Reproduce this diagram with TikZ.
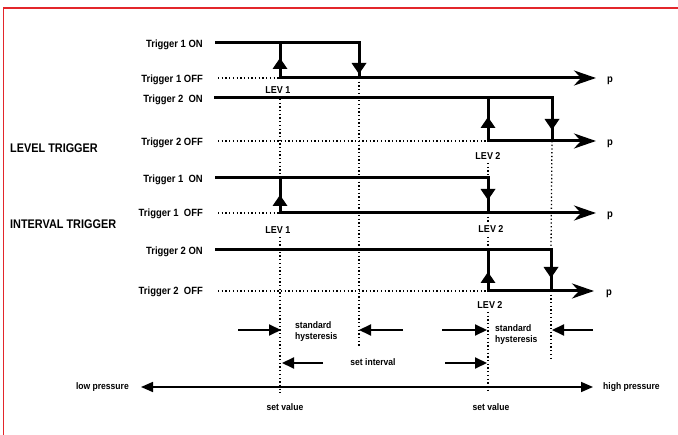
\documentclass[tikz,border=0pt]{standalone}
\usepackage{fontspec}
\setmainfont{Liberation Sans}[FakeStretch=0.9]
\newfontfamily\headfont{Liberation Sans}[FakeStretch=0.87]
\usetikzlibrary{arrows.meta}
\definecolor{framered}{HTML}{E3262B}
\begin{document}
\begin{tikzpicture}[x=1pt,y=-1pt,
  sig/.style={line width=3pt},
  dots/.style={line width=1.3pt, dash pattern=on 1.3pt off 2.4pt},
  parrow/.style={sig,-{Stealth[length=22pt,width=15pt,inset=7pt]}},
  harrow/.style={line width=2pt,-{Triangle[length=12pt,width=11pt]}},
  axisarrow/.style={line width=1.6pt,{Triangle[length=12pt,width=10pt]}-{Triangle[length=12pt,width=10pt]}},
  rowlab/.style={anchor=base east, font=\fontsize{10.5}{12}\selectfont\bfseries, inner sep=0pt},
  levlab/.style={font=\fontsize{10}{11}\selectfont\bfseries, inner sep=0pt},
  smalltxt/.style={font=\fontsize{9.5}{11.5}\selectfont\bfseries, inner sep=0pt},
  plab/.style={font=\fontsize{10.5}{12}\selectfont\bfseries, inner sep=0pt},
  headtxt/.style={anchor=west, font=\headfont\fontsize{12.5}{14}\selectfont\bfseries, inner sep=0pt},
  uparr/.pic={\fill (0,0) -- (7.5,11) -- (-7.5,11) -- cycle;},
  dnarr/.pic={\fill (0,0) -- (7.5,-11) -- (-7.5,-11) -- cycle;},
]
\useasboundingbox (0,0) rectangle (678,435);
% frame
\draw[framered, line width=1.2pt] (3.5,435) -- (3.5,8) -- (678,8);

% ---------- section headings ----------
\node[headtxt] (lvl) at (10,148) {LEVEL TRIGGER};
\node[headtxt] (ivl) at (10,224.5) {INTERVAL TRIGGER};

% ---------- row labels ----------
\node[rowlab] (r1) at (203,48) {Trigger 1 ON};
\node[rowlab] (r2) at (203,83) {Trigger 1 OFF};
\node[rowlab] (r3) at (203,103) {Trigger 2\enspace ON};
\node[rowlab] (r4) at (203,146) {Trigger 2 OFF};
\node[rowlab] (r5) at (203,183) {Trigger 1\enspace ON};
\node[rowlab] (r6) at (203,217) {Trigger 1\enspace OFF};
\node[rowlab] (r7) at (203,255) {Trigger 2 ON};
\node[rowlab] (r8) at (203,295) {Trigger 2\enspace OFF};

% ---------- level trigger 1 ----------
\coordinate (a1) at (215,43);  \coordinate (a2) at (359,43);
\coordinate (a3) at (359,78);  \coordinate (a4) at (280,43);
\coordinate (a5) at (280,78);  \coordinate (a6) at (596,78);
\coordinate (a0) at (218,78);
\draw[dots] (a0) -- (a5);
\draw[sig] (a1) -- (a2) -- (a3);
\draw[parrow] (a4) -- (a5) -- (a6);
\pic at (280,58) {uparr};
\pic at (359,74) {dnarr};
\node[plab] (p1) at (610,81) {p};

% ---------- level trigger 2 ----------
\coordinate (b1) at (214,98);  \coordinate (b2) at (552,98);
\coordinate (b3) at (552,141); \coordinate (b4) at (488,98);
\coordinate (b5) at (488,141); \coordinate (b6) at (596,141);
\coordinate (b0) at (218,141);
\draw[dots] (b0) -- (b5);
\draw[sig] (b1) -- (b2) -- (b3);
\draw[parrow] (b4) -- (b5) -- (b6);
\pic at (488,117) {uparr};
\pic at (552,130) {dnarr};
\node[plab] (p2) at (610,144) {p};

% ---------- interval trigger 1 ----------
\coordinate (c1) at (215,178); \coordinate (c2) at (488,178);
\coordinate (c3) at (488,213); \coordinate (c4) at (280,178);
\coordinate (c5) at (280,213); \coordinate (c6) at (596,213);
\coordinate (c0) at (218,213);
\draw[dots] (c0) -- (c5);
\draw[sig] (c1) -- (c2) -- (c3);
\draw[parrow] (c4) -- (c5) -- (c6);
\pic at (280,195) {uparr};
\pic at (488,200) {dnarr};
\node[plab] (p3) at (610,216) {p};

% ---------- interval trigger 2 ----------
\coordinate (d1) at (215,250); \coordinate (d2) at (551,250);
\coordinate (d3) at (551,291); \coordinate (d4) at (488,250);
\coordinate (d5) at (488,291); \coordinate (d6) at (594,291);
\coordinate (d0) at (218,291);
\draw[dots] (d0) -- (d5);
\draw[sig] (d1) -- (d2) -- (d3);
\draw[parrow] (d4) -- (d5) -- (d6);
\pic at (488,272) {uparr};
\pic at (551,278) {dnarr};
\node[plab] (p4) at (609,294) {p};

% ---------- LEV labels ----------
\node[levlab] (lev1a) at (278,90) {LEV 1};
\node[levlab] (lev2a) at (488,156) {LEV 2};
\node[levlab] (lev1b) at (278,230) {LEV 1};
\node[levlab] (lev2b) at (491,229.5) {LEV 2};
\node[levlab] (lev2c) at (490,305) {LEV 2};

% ---------- dotted verticals ----------
\draw[dots] (280,99) -- (c4);
\draw[dots] (280,237) -- (280,393);
\draw[dots] (a3) -- (359,348);
\draw[dots] (488,163) -- (c2);
\draw[dots] (c3) -- (488,222);
\draw[dots] (488,237) -- (d4);
\draw[dots] (488,312) -- (488,393);
\draw[dots] (b3) -- (d2);
\draw[dots] (d3) -- (551,359);

% ---------- bottom annotation ----------
\coordinate (e1) at (238,330); \coordinate (e2) at (281,330);
\coordinate (e3) at (323,363); \coordinate (e4) at (282,363);
\coordinate (e5) at (403,330); \coordinate (e6) at (359,330);
\coordinate (e7) at (442,330); \coordinate (e8) at (487,330);
\coordinate (e9) at (445,363); \coordinate (e10) at (487,363);
\coordinate (e11) at (593,330); \coordinate (e12) at (552,330);
\draw[harrow] (e1) -- (e2);
\draw[harrow] (e3) -- (e4);
\draw[harrow] (e5) -- (e6);
\draw[harrow] (e7) -- (e8);
\draw[harrow] (e9) -- (e10);
\draw[harrow] (e11) -- (e12);

\node[smalltxt, anchor=north west, align=left] (sh1) at (295,321) {standard\\hysteresis};
\node[smalltxt, anchor=north west, align=left] (sh2) at (495,324) {standard\\hysteresis};
\node[smalltxt] (si) at (373,362) {set interval};

% ---------- pressure axis ----------
\coordinate (f1) at (141,387); \coordinate (f2) at (593,387);
\draw[axisarrow] (f1) -- (f2);
\node[smalltxt, anchor=east] (lowp) at (129,387) {low pressure};
\node[smalltxt, anchor=west] (highp) at (603,387) {high pressure};
\node[smalltxt] (sv1) at (285,407) {set value};
\node[smalltxt] (sv2) at (491,407) {set value};
\end{tikzpicture}
\end{document}
